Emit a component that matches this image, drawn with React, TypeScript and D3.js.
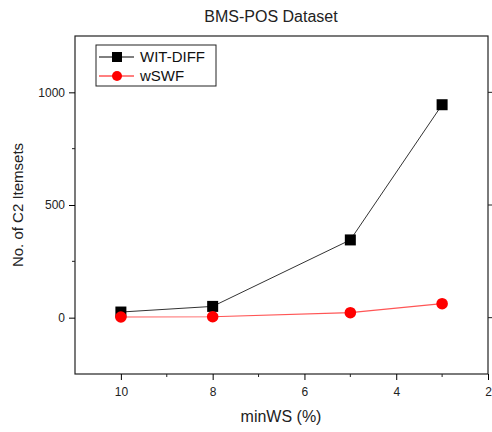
import { useEffect, useRef } from 'react';
import * as d3 from 'd3';

const minWS = [10, 8, 5, 3];
const witDiff = [25, 50, 345, 945];
const wSWF = [3, 4, 22, 62];
const xTicks = [10, 8, 6, 4, 2];
const xMinorTicks = [9, 7, 5, 3];
const yTicks = [0, 500, 1000];
const yMinorTicks = [250, 750];

const FONT = 'Liberation Sans, Arial, sans-serif';

function App() {
  const svgRef = useRef<SVGSVGElement>(null);

  useEffect(() => {
    const svg = d3.select(svgRef.current);
    svg.selectAll('*').remove();

    const left = 75;
    const right = 488;
    const top = 36;
    const bottom = 374;

    const x = d3.scaleLinear().domain([11, 2]).range([left, right]);
    const y = d3.scaleLinear().domain([-250, 1250]).range([bottom, top]);

    svg.append('rect').attr('width', 492).attr('height', 432).attr('fill', '#fff');

    // Title
    svg
      .append('text')
      .attr('x', 271)
      .attr('y', 22)
      .attr('text-anchor', 'middle')
      .style('font-family', FONT)
      .style('font-size', '16px')
      .style('fill', '#222')
      .text('BMS-POS Dataset');

    // Frame
    svg
      .append('rect')
      .attr('x', left)
      .attr('y', top)
      .attr('width', right - left)
      .attr('height', bottom - top)
      .attr('fill', 'none')
      .attr('stroke', '#222')
      .attr('stroke-width', 1.2);

    // Bottom axis
    const xAxis = svg.append('g').attr('transform', `translate(0,${bottom})`);
    xAxis
      .call(d3.axisBottom(x).tickValues(xTicks).tickSize(6).tickFormat(d3.format('d')))
      .call((g) => g.select('.domain').remove());
    xAxis.selectAll('text').style('font-family', FONT).style('font-size', '12px').style('fill', '#222').attr('dy', '1.1em');
    xAxis
      .selectAll('line.minor')
      .data(xMinorTicks)
      .enter()
      .append('line')
      .attr('class', 'minor')
      .attr('x1', (d) => x(d))
      .attr('x2', (d) => x(d))
      .attr('y1', 0)
      .attr('y2', 3)
      .attr('stroke', '#222');

    // Left axis
    const yAxis = svg.append('g').attr('transform', `translate(${left},0)`);
    yAxis
      .call(d3.axisLeft(y).tickValues(yTicks).tickSize(6).tickFormat(d3.format('d')))
      .call((g) => g.select('.domain').remove());
    yAxis.selectAll('text').style('font-family', FONT).style('font-size', '12px').style('fill', '#222').attr('x', -10);
    yAxis
      .selectAll('line.minor')
      .data(yMinorTicks)
      .enter()
      .append('line')
      .attr('class', 'minor')
      .attr('x1', 0)
      .attr('x2', -3)
      .attr('y1', (d) => y(d))
      .attr('y2', (d) => y(d))
      .attr('stroke', '#222');

    // Right axis ticks
    svg
      .append('g')
      .selectAll('line')
      .data(yTicks)
      .enter()
      .append('line')
      .attr('x1', right)
      .attr('x2', right + 4)
      .attr('y1', (d) => y(d))
      .attr('y2', (d) => y(d))
      .attr('stroke', '#222');

    // Axis labels
    svg
      .append('text')
      .attr('x', 281)
      .attr('y', 422)
      .attr('text-anchor', 'middle')
      .style('font-family', FONT)
      .style('font-size', '16px')
      .style('fill', '#222')
      .text('minWS (%)');

    svg
      .append('text')
      .attr('transform', `translate(23,${(top + bottom) / 2}) rotate(-90)`)
      .attr('text-anchor', 'middle')
      .style('font-family', FONT)
      .style('font-size', '15px')
      .style('fill', '#222')
      .text('No. of C2 Itemsets');

    const line = d3
      .line<number>()
      .x((_, i) => x(minWS[i]))
      .y((d) => y(d));

    // WIT-DIFF
    svg
      .append('path')
      .datum(witDiff)
      .attr('d', line)
      .attr('fill', 'none')
      .attr('stroke', '#333')
      .attr('stroke-width', 1);
    svg
      .append('g')
      .selectAll('rect')
      .data(witDiff)
      .enter()
      .append('rect')
      .attr('x', (_, i) => x(minWS[i]) - 5.5)
      .attr('y', (d) => y(d) - 5.5)
      .attr('width', 11)
      .attr('height', 11)
      .attr('fill', '#000');

    // wSWF
    svg
      .append('path')
      .datum(wSWF)
      .attr('d', line)
      .attr('fill', 'none')
      .attr('stroke', '#f55')
      .attr('stroke-width', 1.2);
    svg
      .append('g')
      .selectAll('circle')
      .data(wSWF)
      .enter()
      .append('circle')
      .attr('cx', (_, i) => x(minWS[i]))
      .attr('cy', (d) => y(d))
      .attr('r', 5.8)
      .attr('fill', '#f00');

    // Legend
    const legend = svg.append('g').attr('transform', 'translate(96,45)');
    legend
      .append('rect')
      .attr('width', 120)
      .attr('height', 41)
      .attr('fill', '#fff')
      .attr('stroke', '#222')
      .attr('stroke-width', 1);
    const items = [
      { label: 'WIT-DIFF', color: '#000', shape: 'square' },
      { label: 'wSWF', color: '#f00', shape: 'circle' },
    ];
    const rows = legend
      .selectAll('g.item')
      .data(items)
      .enter()
      .append('g')
      .attr('class', 'item')
      .attr('transform', (_, i) => `translate(0,${12 + i * 19})`);
    rows
      .append('line')
      .attr('x1', 3)
      .attr('x2', 38)
      .attr('stroke', (d) => d.color)
      .attr('stroke-width', 1);
    rows.each(function (d) {
      const g = d3.select(this);
      if (d.shape === 'square') {
        g.append('rect').attr('x', 16).attr('y', -5).attr('width', 10).attr('height', 10).attr('fill', d.color);
      } else {
        g.append('circle').attr('cx', 21).attr('cy', 0).attr('r', 5).attr('fill', d.color);
      }
    });
    rows
      .append('text')
      .attr('x', 44)
      .attr('dy', '0.36em')
      .style('font-family', FONT)
      .style('font-size', '15px')
      .style('fill', '#111')
      .text((d) => d.label);
  }, []);

  return <svg ref={svgRef} width={492} height={432} style={{ position: 'absolute', left: 0, top: 0 }} />;
}

export default App;
